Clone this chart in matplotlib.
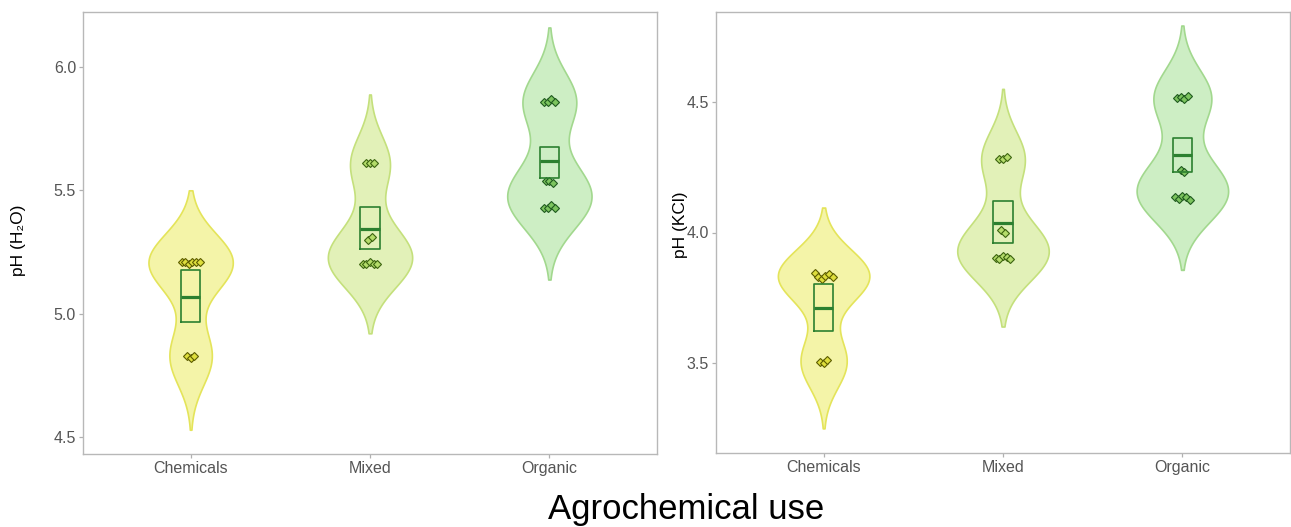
import numpy as np
import matplotlib
matplotlib.use("Agg")
import matplotlib.pyplot as plt

plt.rcParams['font.family'] = ['Liberation Sans', 'DejaVu Sans']

groups = ["Chemicals", "Mixed", "Organic"]

# pH (H2O) observations per group
h2o_chem = [5.21, 5.21, 5.20, 5.21, 5.21, 5.21, 4.83, 4.82, 4.83]
h2o_mixed = [5.61, 5.61, 5.61, 5.30, 5.31, 5.20, 5.20, 5.21, 5.20, 5.20]
h2o_org = [5.86, 5.86, 5.87, 5.86, 5.54, 5.54, 5.53, 5.43, 5.43, 5.44, 5.43]
# box (mean +/- error) for H2O
h2o_mean = [5.069, 5.342, 5.618]
h2o_low = [4.967, 5.264, 5.549]
h2o_high = [5.179, 5.431, 5.675]

# pH (KCl) observations per group
kcl_chem = [3.845, 3.83, 3.822, 3.835, 3.84, 3.83, 3.504, 3.50, 3.51]
kcl_mixed = [4.283, 4.28, 4.29, 4.008, 4.0, 3.904, 3.90, 3.91, 3.905, 3.90]
kcl_org = [4.515, 4.52, 4.51, 4.525, 4.24, 4.23, 4.136, 4.13, 4.14, 4.135, 4.125]
kcl_mean = [3.711, 4.038, 4.297]
kcl_low = [3.623, 3.958, 4.232]
kcl_high = [3.803, 4.119, 4.362]

fills = ["#f4f4a8", "#e2f1b8", "#cdeec4"]
edges = ["#e4e45a", "#c4e07c", "#a2d88e"]
pt_fill = ["#dede3c", "#b4dc6a", "#7cc45e"]
pt_edge = ["#5c5c00", "#3c6410", "#1f5a1f"]
box_col = "#2c8030"


def nrd0(x):
    x = np.asarray(x)
    sd = x.std(ddof=1)
    q75, q25 = np.percentile(x, [75, 25])
    lo = min(sd, (q75 - q25) / 1.34)
    return 0.9 * lo * len(x) ** -0.2


def violin(ax, pos, data, half_w, fc, ec):
    data = np.asarray(data)
    bw = nrd0(data) * 1.05
    grid = np.linspace(data.min() - 2.5 * bw, data.max() + 2.5 * bw, 512)
    dens = np.exp(-0.5 * ((grid[:, None] - data[None, :]) / bw) ** 2).sum(axis=1)
    w = dens / dens.max() * half_w
    ax.fill_betweenx(grid, pos - w, pos + w, facecolor=fc, edgecolor=ec,
                     linewidth=1.2, zorder=1)


def jitter_pos(pos, data):
    data = np.asarray(data)
    xs = np.zeros(len(data))
    for i, v in enumerate(data):
        members = np.where(np.abs(data - v) < 0.05)[0]
        k = len(members)
        r = list(members).index(i)
        xs[i] = pos + (r - (k - 1) / 2) * 0.02
    return xs


def panel(ax, datasets, means, lows, highs, ylim, yticks, half_w):
    for i, d in enumerate(datasets):
        pos = i + 1
        violin(ax, pos, d, half_w, fills[i], edges[i])
        ax.plot(jitter_pos(pos, d), d, 'D', ms=4.5, mfc=pt_fill[i],
                mec=pt_edge[i], mew=0.8, zorder=3)
        bw = 0.053
        ax.plot([pos - bw, pos + bw, pos + bw, pos - bw, pos - bw],
                [lows[i], lows[i], highs[i], highs[i], lows[i]],
                color=box_col, lw=1.2, zorder=4)
        ax.plot([pos - bw, pos + bw], [means[i], means[i]], color=box_col,
                lw=2.3, zorder=4, solid_capstyle='butt')
    ax.set_xlim(0.4, 3.6)
    ax.set_ylim(*ylim)
    ax.set_xticks([1, 2, 3])
    ax.set_xticklabels(groups)
    ax.set_yticks(yticks)
    ax.set_yticklabels([f"{t:.1f}" for t in yticks])
    for s in ax.spines.values():
        s.set_color("#b8b8b8")
        s.set_linewidth(1.0)
    ax.tick_params(colors="#b0b0b0", labelcolor="#555555", labelsize=11.5,
                   length=3, width=0.9, pad=2)


fig = plt.figure(figsize=(12.91, 5.27), dpi=100)
ax1 = fig.add_axes([83 / 1291, 73 / 527, 574 / 1291, 442 / 527])
ax2 = fig.add_axes([716 / 1291, 74 / 527, 574 / 1291, 441 / 527])

panel(ax1, [h2o_chem, h2o_mixed, h2o_org], h2o_mean, h2o_low, h2o_high,
      (4.431, 6.224), [4.5, 5.0, 5.5, 6.0], 0.235)
panel(ax2, [kcl_chem, kcl_mixed, kcl_org], kcl_mean, kcl_low, kcl_high,
      (3.155, 4.845), [3.5, 4.0, 4.5], 0.255)

fig.text(18 / 1291, 1 - 240 / 527, "pH (H₂O)", rotation=90, ha='center',
         va='center', fontsize=12.5, color="black")
fig.text(680 / 1291, 1 - 225 / 527, "pH (KCl)", rotation=90, ha='center',
         va='center', fontsize=12.5, color="black")
fig.text(686 / 1291, 1 - 509 / 527, "Agrochemical use", ha='center',
         va='center', fontsize=25, color="black")

fig.savefig("out.png", dpi=100)
